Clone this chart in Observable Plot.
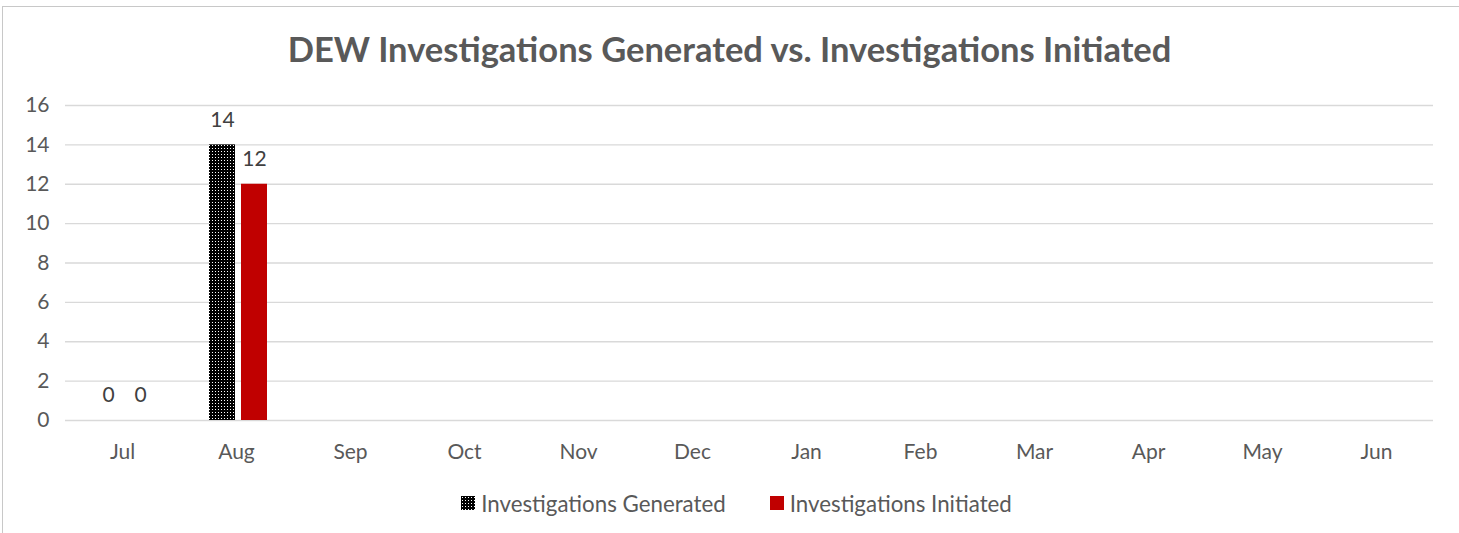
<!DOCTYPE html>
<html><head><meta charset="utf-8">
<script src="https://cdn.jsdelivr.net/npm/d3@7"></script>
<script src="https://cdn.jsdelivr.net/npm/@observablehq/plot@0.6"></script>
<style>
html,body{margin:0;padding:0;background:#fff;overflow:hidden;}
#frame{position:absolute;left:2px;top:6px;width:1500px;height:600px;border-left:1px solid #c8c8c8;border-top:1px solid #c8c8c8;box-sizing:border-box;}
#wrap{position:absolute;left:0;top:0;width:1459px;}
#title{height:90px;line-height:98px;text-align:center;font-family:Lato,sans-serif;font-weight:bold;font-size:34.5px;color:#595959;}
#legend{display:flex;justify-content:center;align-items:center;font-family:Lato,sans-serif;font-size:22.3px;color:#595959;height:56px;padding-left:14px;}
.item{display:flex;align-items:center;}
.sw{width:14px;height:14px;margin-right:6px;}
svg text{font-family:Lato,sans-serif;}
</style></head>
<body>
<svg width="0" height="0" style="position:absolute">
<defs>
<pattern id="dots" patternUnits="userSpaceOnUse" width="3" height="3">
<rect width="3" height="3" fill="#000"/>
<rect x="1" y="1" width="1" height="1" fill="#fff"/>
</pattern>
</defs>
</svg>
<div id="frame"></div>
<div id="wrap">
<div id="title">DEW Investigations Generated vs. Investigations Initiated</div>
<div id="chart"></div>
<div id="legend">
<div class="item"><svg class="sw" width="14" height="14"><rect width="14" height="14" fill="url(#dots)"/></svg><span>Investigations Generated</span></div>
<div class="item" style="margin-left:44px"><div class="sw" style="background:#C00000"></div><span>Investigations Initiated</span></div>
</div>
</div>
<script>
const months = ["Jul","Aug","Sep","Oct","Nov","Dec","Jan","Feb","Mar","Apr","May","Jun"];
const generated = [0, 14, null, null, null, null, null, null, null, null, null, null];
const initiated = [0, 12, null, null, null, null, null, null, null, null, null, null];
const seriesNames = ["Investigations Generated", "Investigations Initiated"];
const yTicks = [0, 2, 4, 6, 8, 10, 12, 14, 16];

const rows = [];
months.forEach((m, i) => {
  if (generated[i] != null) rows.push({month: m, series: seriesNames[0], value: generated[i]});
  if (initiated[i] != null) rows.push({month: m, series: seriesNames[1], value: initiated[i]});
});
const gen = rows.filter(d => d.series === seriesNames[0]);
const ini = rows.filter(d => d.series === seriesNames[1]);
const grid = months.flatMap(m => yTicks.map(t => ({month: m, tick: t})));

const chart = Plot.plot({
  width: 1459,
  height: 385,
  marginTop: 15,
  marginBottom: 55,
  marginLeft: 61,
  marginRight: 22,
  style: {fontFamily: "Lato, sans-serif", fontSize: "21px", color: "#595959", background: "transparent"},
  fx: {domain: months, padding: 0, label: null, axis: "bottom", tickSize: 0, tickPadding: 24},
  x: {domain: seriesNames, paddingInner: 0.1875, paddingOuter: 0.875, align: 0.53, axis: null},
  y: {domain: [0, 16], ticks: yTicks, label: null, tickSize: 0, tickPadding: 16},
  marks: [
    Plot.ruleY(grid, {fx: "month", y: "tick", stroke: "#d9d9d9", strokeWidth: 1.3}),
    Plot.barY(gen, {fx: "month", x: "series", y: "value", fill: "url(#dots)"}),
    Plot.barY(ini, {fx: "month", x: "series", y: "value", fill: "#C00000"}),
    Plot.text(rows, {fx: "month", x: "series", y: "value", text: d => String(d.value), dy: -25, fill: "#404040", fontSize: 21})
  ]
});
document.getElementById("chart").appendChild(chart);
</script>
</body></html>
